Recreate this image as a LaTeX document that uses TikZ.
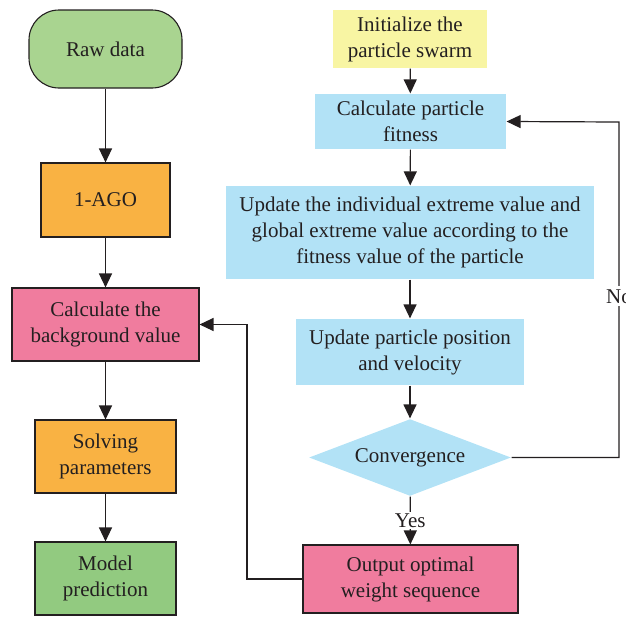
\documentclass[tikz,border=0pt]{standalone}
\usepackage{fontspec}
\setmainfont{Liberation Serif}
\usepackage{tikz}
\usetikzlibrary{arrows.meta,shapes.geometric,positioning}
\usepackage{xcolor}
\definecolor{rawgreen}{RGB}{169,212,144}
\definecolor{modgreen}{RGB}{146,202,128}
\definecolor{agoorange}{RGB}{249,178,67}
\definecolor{bgpink}{RGB}{240,124,158}
\definecolor{inityellow}{RGB}{248,245,163}
\definecolor{psoblue}{RGB}{178,226,246}
\definecolor{txtgray}{RGB}{35,31,32}

\begin{document}
\begin{tikzpicture}[x=1pt,y=-1pt,>={Triangle[length=14pt,width=13pt]},line width=1.2pt,
  every node/.style={font=\fontsize{21}{26}\selectfont,text=txtgray,align=center,inner sep=0pt},
  lbox/.style={draw=txtgray,line width=1.1pt,minimum width=#1},
  rbox/.style={minimum width=#1},
  conn/.style={->,draw=txtgray}]
\useasboundingbox (0,0) rectangle (626,616);
% left column: grey model
\node[lbox=153pt,fill=rawgreen,minimum height=78pt,rounded corners=30pt](raw) at (105.5,49){Raw data};
\node[lbox=129pt,fill=agoorange,minimum height=74pt](ago) at (105.5,200){1-AGO};
\node[lbox=187pt,fill=bgpink,minimum height=73pt](bg) at (105.5,324.5){Calculate the\\background value};
\node[lbox=141pt,fill=agoorange,minimum height=73pt](solve) at (105.5,456.5){Solving\\parameters};
\node[lbox=141pt,fill=modgreen,minimum height=73pt](model) at (105.5,578.5){Model\\prediction};
% right column: particle swarm
\node[rbox=154pt,fill=inityellow,minimum height=58pt](init) at (410,39){Initialize the\\particle swarm};
\node[rbox=191pt,fill=psoblue,minimum height=55pt](fit) at (410.5,121.5){Calculate particle\\fitness};
\node[rbox=368pt,fill=psoblue,minimum height=93pt](upd) at (410,232.5){Update the individual extreme value and\\global extreme value according to the\\fitness value of the particle};
\node[rbox=228pt,fill=psoblue,minimum height=66pt](pos) at (410,352){Update particle position\\and velocity};
\node[diamond,fill=psoblue,aspect=2.6,minimum width=202pt,minimum height=77pt](conv) at (410,457.5){Convergence};
\node[lbox=215pt,fill=bgpink,minimum height=68pt](out) at (410.5,579){Output optimal\\weight sequence};
\coordinate (noturn) at (619,122);
\coordinate (backturn) at (247,324.5);
% arrows
\draw[conn](raw)--(ago);
\draw[conn](ago)--(bg);
\draw[conn](bg)--(solve);
\draw[conn](solve)--(model);
\draw[conn](init)--(fit);
\draw[conn](fit)--(upd);
\draw[conn](upd)--(pos);
\draw[conn](pos)--(conv);
\draw[conn](conv)--node[fill=white,inner ysep=2pt]{Yes}(out);
\draw[conn](conv.east)-|node[pos=0.74,fill=white,inner ysep=3pt,inner xsep=1pt]{No}(noturn)--(fit.east);
\draw[conn](out.west)-|(backturn)--(bg.east);
\end{tikzpicture}
\end{document}
